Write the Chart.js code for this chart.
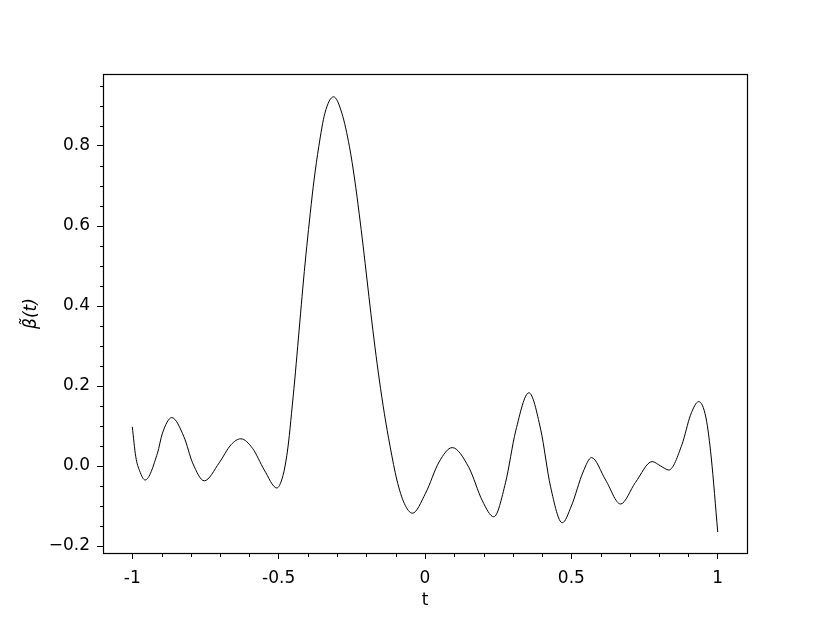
<!DOCTYPE html>
<html>
<head>
<meta charset="utf-8">
<script src="https://cdn.jsdelivr.net/npm/chart.js@4.4.1/dist/chart.umd.min.js"></script>
<style>
  body { margin: 0; background: #fff; }
  canvas { display: block; }
</style>
</head>
<body>
<canvas id="betaChart" width="830" height="623"></canvas>
<script>
// values
var tValues = [
    -1.000, -0.988, -0.975, -0.956, -0.914, -0.897, -0.865, -0.823, -0.794, -0.754,
    -0.703, -0.663, -0.629, -0.589, -0.549, -0.506, -0.492, -0.478, -0.466, -0.456,
    -0.445, -0.435, -0.425, -0.415, -0.404, -0.392, -0.379, -0.363, -0.342, -0.312,
    -0.284, -0.258, -0.240, -0.225, -0.211, -0.198, -0.185, -0.171, -0.156, -0.139,
    -0.119, -0.096, -0.071, -0.043, 0.002, 0.048, 0.093, 0.150, 0.196, 0.235,
    0.275, 0.310, 0.355, 0.395, 0.429, 0.469, 0.500, 0.540, 0.569, 0.617,
    0.668, 0.719, 0.776, 0.805, 0.833, 0.878, 0.907, 0.935, 0.960, 0.978,
    1.000
];
var betaValues = [
    0.098, 0.023, -0.012, -0.035, 0.032, 0.082, 0.121, 0.072, 0.008, -0.037,
    0.008, 0.053, 0.068, 0.044, -0.010, -0.055, -0.040, 0.000, 0.060, 0.132,
    0.215, 0.298, 0.382, 0.465, 0.548, 0.632, 0.715, 0.798, 0.882, 0.923,
    0.882, 0.798, 0.715, 0.632, 0.548, 0.465, 0.382, 0.298, 0.215, 0.132,
    0.048, -0.035, -0.093, -0.118, -0.068, 0.010, 0.046, -0.004, -0.087, -0.127,
    -0.042, 0.088, 0.183, 0.092, -0.052, -0.142, -0.100, -0.015, 0.021, -0.035,
    -0.095, -0.041, 0.011, 0.000, -0.010, 0.054, 0.127, 0.161, 0.120, 0.020,
    -0.165
];

var xTicks = [-1, -0.5, 0, 0.5, 1];
var xTickLabels = ['-1', '-0.5', '0', '0.5', '1'];
var xMinorTicks = [-0.9, -0.8, -0.7, -0.6, -0.4, -0.3, -0.2, -0.1, 0.1, 0.2, 0.3, 0.4, 0.6, 0.7, 0.8, 0.9];
var yTicks = [-0.2, 0, 0.2, 0.4, 0.6, 0.8];
var yTickLabels = ['\u22120.2', '0.0', '0.2', '0.4', '0.6', '0.8'];
var yMinorTicks = [-0.15, -0.1, -0.05, 0.05, 0.1, 0.15, 0.25, 0.3, 0.35, 0.45, 0.5, 0.55, 0.65, 0.7, 0.75, 0.85, 0.9, 0.95];

var points = tValues.map(function (t, i) {
    return {x: t, y: betaValues[i]};
});

// box around the plot + short minor ticks, like matplotlib
var frame = {
    id: 'frame',
    afterDraw: function (chart) {
        var ctx = chart.ctx, a = chart.chartArea;
        var xs = chart.scales.x, ys = chart.scales.y;
        var l = Math.round(a.left) + 0.5, t = Math.round(a.top) + 0.5;
        var r = Math.round(a.right) + 0.5, b = Math.round(a.bottom) + 0.5;
        ctx.save();
        ctx.strokeStyle = '#000';
        ctx.lineWidth = 1.2;
        ctx.strokeRect(l, t, r - l, b - t);
        ctx.lineWidth = 1;
        ctx.beginPath();
        xMinorTicks.forEach(function (v) {
            var px = Math.round(xs.getPixelForValue(v)) + 0.5;
            ctx.moveTo(px, b);
            ctx.lineTo(px, b + 3.5);
        });
        yMinorTicks.forEach(function (v) {
            var py = Math.round(ys.getPixelForValue(v)) + 0.5;
            ctx.moveTo(l - 3.5, py);
            ctx.lineTo(l, py);
        });
        ctx.stroke();
        ctx.restore();
    }
};

var font = {family: 'DejaVu Sans', size: 17};

new Chart(document.getElementById('betaChart'), {
    type: 'line',
    data: {
        datasets: [{
            data: points,
            borderColor: '#000',
            borderWidth: 1,
            pointRadius: 0,
            fill: false,
            cubicInterpolationMode: 'monotone'
        }]
    },
    options: {
        responsive: false,
        animation: false,
        layout: {padding: {top: 74, right: 83, left: 0, bottom: 0}},
        plugins: {legend: {display: false}, tooltip: {enabled: false}},
        scales: {
            x: {
                type: 'linear',
                min: -1.1,
                max: 1.1,
                afterBuildTicks: function (scale) {
                    scale.ticks = xTicks.map(function (v) { return {value: v}; });
                },
                afterFit: function (scale) { scale.height = 70; },
                ticks: {
                    color: '#000',
                    font: font,
                    padding: 9,
                    maxRotation: 0,
                    callback: function (v) { return xTickLabels[xTicks.indexOf(v)]; }
                },
                grid: {drawOnChartArea: false, tickLength: 6, color: '#000'},
                border: {display: false},
                title: {display: true, text: 't', color: '#000', font: font, padding: {top: 0, bottom: 12}}
            },
            y: {
                min: -0.2175,
                max: 0.98,
                afterBuildTicks: function (scale) {
                    scale.ticks = yTicks.map(function (v) { return {value: v}; });
                },
                afterFit: function (scale) { scale.width = 103; },
                ticks: {
                    color: '#000',
                    font: font,
                    padding: 7,
                    callback: function (v) { return yTickLabels[yTicks.indexOf(v)]; }
                },
                grid: {drawOnChartArea: false, tickLength: 6, color: '#000'},
                border: {display: false},
                title: {
                    display: true,
                    text: '\u03B2\u0303(t)',
                    color: '#000',
                    font: {family: 'DejaVu Sans', size: 17, style: 'italic'},
                    padding: {top: 21, bottom: 0}
                }
            }
        }
    },
    plugins: [frame]
});
</script>
</body>
</html>
